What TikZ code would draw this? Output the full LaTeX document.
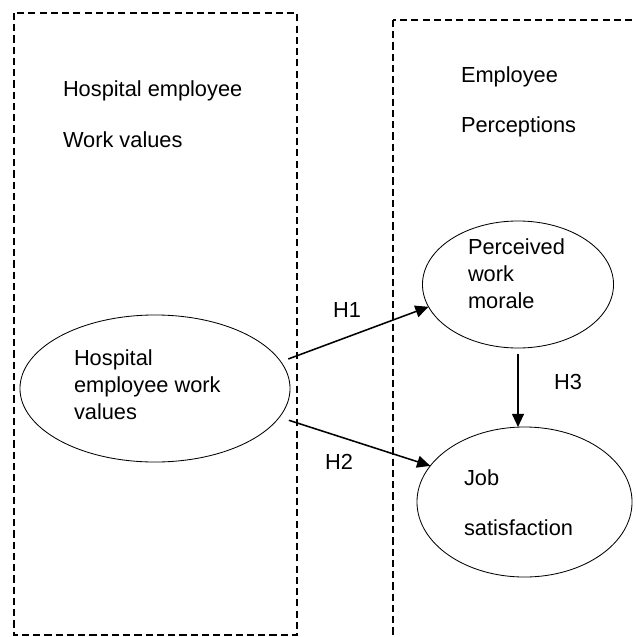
\documentclass[tikz,border=0pt]{standalone}
\usepackage{fontspec}
\setmainfont{Liberation Sans}
\usetikzlibrary{arrows.meta, shapes.geometric}
\usetikzlibrary{positioning}

\begin{document}
\begin{tikzpicture}[
	x = 0.025cm, y = -0.025cm, % one unit is one pixel of the figure
	> = {Triangle[length=0.33cm, width=0.3cm]}, % arrow head style
	font = \fontsize{15.5}{19}\selectfont,
	line width = 0.6pt % line style
	]
	
	\tikzstyle{every node}=[inner sep = 0pt, outer sep = 0pt]
	\tikzstyle{group}=[draw = black, line width = 1pt, dash pattern = on 5pt off 3pt]
	\tikzstyle{oval}=[ellipse, draw = black, line width = 0.6pt]
	\tikzstyle{lbl}=[anchor = base west, align = left] % base is the last line
	\tikzstyle{hyp}=[->, line width = 1.1pt]
	
	\clip (0,0) rectangle (636,637);
	
	% the two dashed groups
	\draw[group] (14,13) rectangle (297,635);
	\draw[group] (393,20) rectangle (660,660);
	
	\node[lbl] (ghead) at (63,147) {Hospital employee\\[17pt]Work values};
	\node[lbl] (phead) at (461,132) {Employee\\[16pt]Perceptions};
	
	% the constructs
	\node[oval, minimum width = 6.75cm, minimum height = 3.675cm] (hev) at (155,388.5) {};
	\node[oval, minimum width = 4.775cm, minimum height = 3.175cm] (pwm) at (518,284.5) {};
	\node[oval, minimum width = 5.375cm, minimum height = 3.75cm] (js) at (524.5,502) {};
	
	\node[lbl] (hevtext) at (74,419) {Hospital\\employee work\\values};
	\node[lbl] (pwmtext) at (468,308) {Perceived\\work\\morale};
	\node[lbl] (jstext) at (464,535) {Job\\[16pt]satisfaction};
	
	% hypotheses
	\draw[hyp, shorten <= 0.2cm] (hev.12) -- (pwm.194);
	\draw[hyp, shorten <= 0.25cm] (hev.-13.4) -- (js.159.6);
	\draw[hyp, shorten <= 0.15cm] (pwm.south) -- (pwm.south |- js.north);
	
	\node (h1) at (347,310) {H1};
	\node (h2) at (339,462) {H2};
	\node (h3) at (568,382) {H3};
	
\end{tikzpicture}
\end{document}
